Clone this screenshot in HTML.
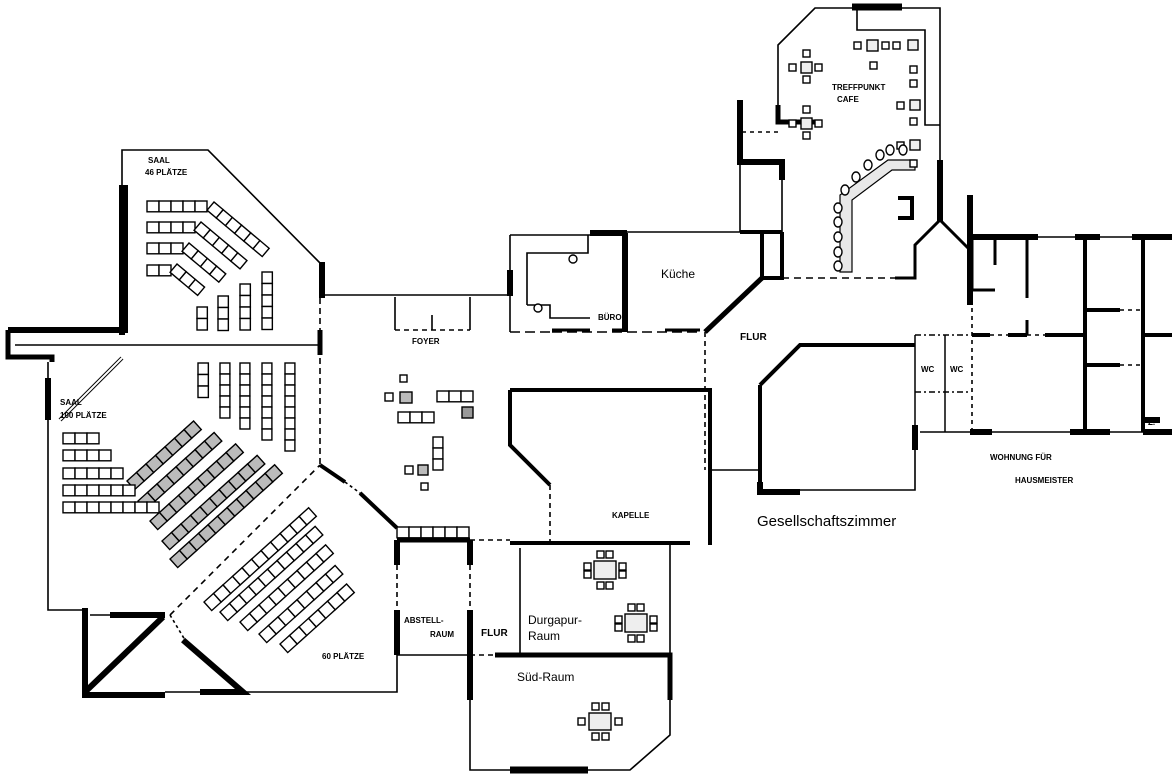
<!DOCTYPE html>
<html><head><meta charset="utf-8"><style>
html,body{margin:0;padding:0;background:#fff;}
svg{display:block}
text{font-family:"Liberation Sans",sans-serif;fill:#000}
.s{font-size:8px;font-weight:bold}
.m{font-size:12px}
</style></head><body>
<svg id="p" width="1172" height="783" viewBox="0 0 1172 783" xmlns="http://www.w3.org/2000/svg">
<g fill="none" stroke="#000" stroke-width="1.6">
<!-- Saal 46 -->
<path d="M122 185 V150 H208 L322 265"/>
<path d="M122 185 V335" stroke-width="6"/>
<path d="M322 262 V298" stroke-width="6"/>
<path d="M8 330 H125 V185" stroke-width="6"/>
<path d="M8 330 V357 H52 V362" stroke-width="5"/>
<path d="M15 345 H320"/>
<path d="M48 362 V610 H85"/>
<path d="M48 378 V420" stroke-width="6"/>
<path d="M60 420 L122 358" stroke-width="4"/>
<path d="M60 420 L122 358" stroke-width="2" stroke="#fff"/>
<path d="M320 298 V465" stroke-dasharray="6 4"/>
<path d="M320 330 V355" stroke-width="5"/>
<path d="M170 615 L320 465" stroke-dasharray="6 5"/>
<path d="M320 465 L345 482 M360 493 L397 528" stroke-width="4"/>
<path d="M345 482 L360 493" stroke-dasharray="3 3"/>
<!-- triangle entry -->
<path d="M85 608 V695 H165 M200 692 H243 L183 640 M85 692 L163 617 M110 615 H165" stroke-width="6"/>
<path d="M165 692 H200 M90 615 H110"/>
<path d="M170 615 L185 640" stroke-dasharray="3 3"/>
<path d="M243 692 H397 V655"/>
<!-- foyer -->
<path d="M322 295 H510"/>
<path d="M395 297 V330 M470 297 V330 M432 315 V330"/>
<path d="M395 330 H470" stroke-dasharray="5 4"/>
<!-- Buero -->
<path d="M510 235 H590 M510 235 V332"/>
<path d="M510 270 V296" stroke-width="6"/>
<path d="M590 233 H627 M625 233 V332" stroke-width="6"/>
<path d="M527 305 V253 H588 V235 M527 305 H550 V318 H590"/>
<path d="M510 332 H552 M552 332 H700" stroke-dasharray="10 5"/>
<path d="M552 330 H590 M612 330 H625 M665 330 H700" stroke-width="3"/>
<!-- Kueche -->
<path d="M625 232 H740 M740 160 V232"/>
<path d="M740 100 V162 H782 V180" stroke-width="6"/>
<path d="M782 180 V232"/>
<path d="M740 232 H782 M762 232 V278 H782 M782 232 V280" stroke-width="4"/>
<path d="M762 278 L705 332" stroke-width="5"/>
<path d="M782 278 H915" stroke-dasharray="7 5"/>
<path d="M895 278 H915 V245 L940 220 L970 250" stroke-width="3"/>
<path d="M898 198 H912 V218 H898" stroke-width="4"/>
<!-- Cafe -->
<path d="M742 132 H778" stroke-dasharray="4 4"/>
<path d="M778 105 V45 L815 8 H940 V160"/>
<path d="M778 105 V122 H815" stroke-width="5"/>
<path d="M852 7 H902" stroke-width="7"/>
<path d="M857 10 V30 H925 V125 H940"/>
<path d="M940 160 V222" stroke-width="6"/>
<path d="M970 195 V305" stroke-width="6"/>
<path d="M852 272 V200 L892 170 H915 V160 H888 L840 195 V272 Z" stroke-width="1.2" fill="#e8e8e8"/>
<!-- right apartment -->
<path d="M970 237 H1038 M1075 237 H1100 M1132 237 H1172" stroke-width="6"/>
<path d="M1038 237 H1075 M1100 237 H1132"/>
<path d="M972 240 V290 H995 M995 240 V265 M1027 240 V298 M1027 320 V335" stroke-width="3"/>
<path d="M1085 237 V432 M1143 237 V432" stroke-width="4"/>
<path d="M972 292 V432" stroke-dasharray="4 4"/>
<path d="M972 335 H990 M1008 335 H1027 M1045 335 H1085 M1145 335 H1172 M1087 310 H1120 M1087 365 H1120" stroke-width="4"/>
<path d="M990 335 H1008 M1027 335 H1045 M1120 310 H1143 M1120 365 H1143 M1085 335 V365" stroke-dasharray="4 4"/>
<path d="M915 335 H970" stroke-dasharray="6 3 2 3"/>
<path d="M920 432 H1172"/>
<path d="M970 432 H992 M1070 432 H1110 M1143 432 H1172 M1143 420 H1160" stroke-width="6"/>
<!-- Flur & Kapelle -->
<path d="M705 332 V470" stroke-dasharray="5 4"/>
<path d="M510 390 H710 V545 M510 390 V445 L550 485" stroke-width="4"/>
<path d="M550 485 V545" stroke-dasharray="5 4"/>
<path d="M710 470 H760"/>
<path d="M760 385 L800 345 H915 M760 385 V490" stroke-width="4"/>
<path d="M800 345 H915 M760 490 H915 V430"/>
<path d="M760 482 V492 H800" stroke-width="6"/>
<path d="M915 425 V450" stroke-width="6"/>
<path d="M915 335 V432 M945 335 V432" stroke-width="1.5"/>
<path d="M915 392 H970" stroke-dasharray="6 3 2 3"/>
<!-- lower middle -->
<path d="M397 540 H470" stroke-width="5"/>
<path d="M397 540 V565 M470 540 V565 M397 610 V655 M470 610 V700" stroke-width="6"/>
<path d="M397 565 V610 M470 565 V610 M470 540 H510" stroke-dasharray="5 4"/>
<path d="M510 543 H670 M670 543 H690" stroke-width="4"/>
<path d="M520 548 V655"/>
<path d="M397 655 H470"/>
<path d="M470 655 H495" stroke-dasharray="5 4"/>
<path d="M495 655 H670 V700" stroke-width="5"/>
<path d="M670 545 V655 M670 700 V735 L630 770 H470 V700"/>
<path d="M510 770 H588" stroke-width="7"/>
</g>
<g id="chairs" fill="#fff" stroke="#000" stroke-width="1.4"></g>
<g stroke="none">
<text class="s" x="148" y="163">SAAL</text>
<text class="s" x="145" y="175">46 PLÄTZE</text>
<text class="s" x="60" y="405">SAAL</text>
<text class="s" x="60" y="418">100 PLÄTZE</text>
<text class="s" x="322" y="659">60 PLÄTZE</text>
<text class="s" x="412" y="344">FOYER</text>
<text class="s" x="598" y="320">BÜRO</text>
<text class="m" x="661" y="278">Küche</text>
<text class="s" x="740" y="340" style="font-size:10px">FLUR</text>
<text class="s" x="832" y="90">TREFFPUNKT</text>
<text class="s" x="837" y="102">CAFE</text>
<text class="s" x="921" y="372">WC</text>
<text class="s" x="950" y="372">WC</text>
<text class="s" x="990" y="460">WOHNUNG FÜR</text>
<text class="s" x="1015" y="483">HAUSMEISTER</text>
<text class="s" x="1148" y="425">Z.</text>
<text style="font-size:15px" x="757" y="526">Gesellschaftszimmer</text>
<text class="s" x="612" y="518">KAPELLE</text>
<text class="s" x="404" y="623">ABSTELL-</text>
<text class="s" x="430" y="637">RAUM</text>
<text class="s" x="481" y="636" style="font-size:10px">FLUR</text>
<text class="m" x="528" y="624">Durgapur-</text>
<text class="m" x="528" y="640">Raum</text>
<text class="m" x="517" y="681">Süd-Raum</text>
</g>
</svg>
<script>
var g=document.getElementById('chairs'),NS="http://www.w3.org/2000/svg";
function r(x,y,w,h,f,tr){var e=document.createElementNS(NS,'rect');e.setAttribute('x',x);e.setAttribute('y',y);e.setAttribute('width',w);e.setAttribute('height',h);if(f)e.setAttribute('fill',f);if(tr)e.setAttribute('transform',tr);g.appendChild(e);}
function row(x,y,n,s,ang,f){for(var i=0;i<n;i++){r(x+i*s,y,s,s*0.9,f,ang?'rotate('+ang+' '+x+' '+y+')':null);}}
function col(x,y,n,s){for(var i=0;i<n;i++)r(x,y+i*s,s*0.9,s);}
// Saal 46
row(147,201,5,12);row(147,222,4,12);row(147,243,3,12);row(147,265,2,12);
row(214,202,6,12,40);row(201,222,5,12,40);row(189,243,4,12,40);row(177,264,3,12,40);
col(197,307,2,11.5);col(218,296,3,11.5);col(240,284,4,11.5);col(262,272,5,11.5);
// Saal 100
col(198,363,3,11.5);col(220,363,5,11);col(240,363,6,11);col(262,363,7,11);col(285,363,8,11);
var hs=[[127,481,7],[138,501,8],[150,521,9],[162,541,10],[170,559,11]];
hs.forEach(function(h){row(h[0],h[1],h[2],12.8,-42,'#bbb');});
row(63,433,3,12);row(63,450,4,12);row(63,468,5,12);row(63,485,6,12);row(63,502,8,12);
var ss=[[204,602,11],[220,612,10],[240,622,9],[259,634,8],[280,644,7]];
ss.forEach(function(h){row(h[0],h[1],h[2],12.8,-42);});
row(397,527,6,12);
// foyer
r(400,375,7,7);r(385,393,8,8);r(400,392,12,11,'#bbb');row(437,391,3,12);r(462,407,11,11,'#999');row(398,412,3,12);col(433,437,3,11);r(405,466,8,8);r(418,465,10,10,'#bbb');r(421,483,7,7);
// durgapur
function tbl(x,y){r(x,y,22,18,'#eee');r(x+3,y-10,7,7);r(x+12,y-10,7,7);r(x+3,y+21,7,7);r(x+12,y+21,7,7);r(x-10,y+2,7,7);r(x+25,y+2,7,7);r(x-10,y+10,7,7);r(x+25,y+10,7,7);}
tbl(594,561);tbl(625,614);
r(589,713,22,17,'#eee');r(592,703,7,7);r(602,703,7,7);r(592,733,7,7);r(602,733,7,7);r(578,718,7,7);r(615,718,7,7);
// cafe
function ct(x,y){r(x,y,11,11,'#eee');r(x+2,y-12,7,7);r(x+2,y+14,7,7);r(x-12,y+2,7,7);r(x+14,y+2,7,7);}
ct(801,62);ct(801,118);
r(867,40,11,11,'#eee');r(854,42,7,7);r(882,42,7,7);r(893,42,7,7);r(908,40,10,10,'#eee');r(870,62,7,7);
r(910,66,7,7);r(910,80,7,7);r(910,100,10,10,'#eee');r(897,102,7,7);r(910,118,7,7);r(910,140,10,10,'#eee');r(897,142,7,7);r(910,160,7,7);
var cc=[[845,190],[856,177],[868,165],[880,155],[890,150],[903,150],[838,208],[838,222],[838,237],[838,252],[838,266]];
cc.forEach(function(p){var e=document.createElementNS(NS,'ellipse');e.setAttribute('cx',p[0]);e.setAttribute('cy',p[1]);e.setAttribute('rx',4);e.setAttribute('ry',5);g.appendChild(e);});
var e=document.createElementNS(NS,'circle');e.setAttribute('cx',573);e.setAttribute('cy',259);e.setAttribute('r',4);g.appendChild(e);
e=document.createElementNS(NS,'circle');e.setAttribute('cx',538);e.setAttribute('cy',308);e.setAttribute('r',4);g.appendChild(e);
</script>
</body></html>
